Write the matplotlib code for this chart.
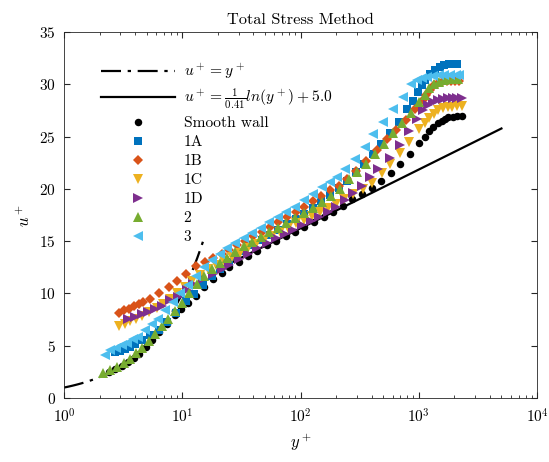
import numpy as np
import matplotlib
matplotlib.use("Agg")
import matplotlib.pyplot as plt

plt.rcParams['font.family'] = 'serif'
plt.rcParams['font.serif'] = ['cmr10', 'DejaVu Serif']
plt.rcParams['mathtext.fontset'] = 'cm'
plt.rcParams['axes.formatter.use_mathtext'] = True
plt.rcParams['font.size'] = 10

# smooth wall
yp_smooth = [2.4, 2.7, 3.1, 3.5, 3.9, 4.3, 4.9, 5.5, 6.4, 7.4, 8.6, 9.8, 11.2, 13.0, 15.4, 18.2, 21.5, 25, 30, 36,
             43, 52, 62, 75, 90, 108, 130, 157, 189, 230, 270, 328, 399, 476, 578, 692, 841, 1008, 1120, 1224,
             1324, 1459, 1560, 1662, 1780, 1954, 2120, 2300]
up_smooth = [2.5, 2.8, 3.1, 3.45, 3.85, 4.25, 4.85, 5.5, 6.3, 7.1, 7.9, 8.5, 9.1, 9.8, 10.6, 11.4, 12.0, 12.5, 13.0, 13.6,
             14.1, 14.6, 15.0, 15.5, 15.9, 16.4, 16.8, 17.3, 17.8, 18.4, 19.0, 19.5, 20.05, 20.8, 21.5, 22.4, 23.3, 24.4, 25.0, 25.5,
             25.9, 26.3, 26.5, 26.7, 26.85, 26.9, 26.95, 26.95]

# 1A
yp_1A = [2.7, 3.0, 3.3, 3.6, 4.0, 4.6, 5.3, 6.3, 7.4, 8.8, 10.7, 12.6, 15.0, 18.0, 21, 25, 29, 34, 40, 47,
         55, 65, 77, 91, 107, 127, 150, 177, 210, 248, 293, 346, 409, 483, 571, 675, 790, 900, 990, 1060,
         1120, 1240, 1370, 1500, 1650, 1790, 1950, 2110]
up_1A = [4.4, 4.5, 4.7, 4.9, 5.15, 5.5, 6.0, 6.5, 7.3, 8.1, 9.3, 9.9, 10.8, 11.7, 12.3, 13.0, 13.6, 14.1, 14.6, 15.1,
         15.6, 16.1, 16.6, 17.1, 17.6, 18.2, 18.8, 19.4, 20.1, 20.8, 21.6, 22.4, 23.3, 24.3, 25.3, 26.4, 27.6, 28.4, 29.3, 29.9,
         30.4, 31.0, 31.4, 31.7, 31.8, 31.9, 31.9, 31.9]

# 1B
yp_1B = [2.93, 3.23, 3.56, 3.93, 4.33, 4.68, 5.33, 6.39, 7.67, 9.08, 10.7, 13.1, 15.6, 18.3, 21.5, 25, 29, 34, 40, 47,
         55, 65, 77, 91, 107, 127, 150, 177, 210, 248, 293, 359, 447, 535, 641, 781, 924, 1085, 1160, 1250,
         1350, 1460, 1580, 1720, 1870, 2030, 2200]
up_1B = [8.1, 8.4, 8.55, 8.8, 9.0, 9.2, 9.5, 10.0, 10.6, 11.2, 11.9, 12.6, 13.0, 13.4, 13.8, 14.2, 14.6, 15.0, 15.45, 15.9,
         16.35, 16.8, 17.3, 17.8, 18.3, 18.8, 19.3, 19.85, 20.3, 20.9, 21.7, 22.7, 23.7, 24.8, 25.6, 26.6, 27.6, 28.5, 29.0, 29.5,
         29.9, 30.1, 30.25, 30.3, 30.3, 30.3, 30.3]

# 1C
yp_1C = [2.93, 3.28, 3.61, 4.06, 4.53, 5.2, 6.08, 6.9, 7.9, 9.1, 10.5, 12.2, 14.2, 16.6, 19.4, 22.7, 26.5, 31, 36, 42,
         49, 57, 67, 78, 91, 107, 125, 146, 171, 200, 234, 280, 339, 399, 486, 569, 692, 827, 1008, 1120,
         1224, 1340, 1460, 1600, 1750, 1920, 2100, 2300]
up_1C = [6.9, 7.1, 7.4, 7.6, 7.8, 8.2, 8.6, 9.0, 9.5, 10.0, 10.6, 11.2, 11.8, 12.3, 12.7, 13.1, 13.5, 13.9, 14.3, 14.7,
         15.1, 15.5, 15.9, 16.3, 16.7, 17.0, 17.4, 17.8, 18.2, 18.6, 19.0, 19.5, 20.0, 20.6, 21.5, 22.4, 23.4, 24.5, 25.7, 26.3,
         26.8, 27.2, 27.5, 27.7, 27.8, 27.85, 27.9, 27.9]

# 1D
yp_1D = [3.5, 3.98, 4.53, 5.16, 5.87, 6.68, 7.86, 9.24, 10.9, 12.4, 15.0, 18.3, 21.5, 25, 30, 36, 43, 52, 62, 74,
         87, 103, 122, 144, 170, 200, 236, 278, 328, 386, 455, 569, 692, 827, 960, 1080, 1200, 1320, 1450, 1600,
         1760, 1930, 2100, 2300]
up_1D = [7.6, 7.75, 8.0, 8.25, 8.55, 8.8, 9.35, 9.7, 10.3, 10.9, 11.4, 11.9, 12.3, 12.7, 13.3, 13.8, 14.3, 14.8, 15.3, 15.7,
         16.1, 16.5, 16.9, 17.35, 17.8, 18.3, 18.9, 19.6, 20.3, 21.1, 21.9, 23.0, 24.2, 25.5, 26.7, 27.5, 28.0, 28.3, 28.5, 28.6,
         28.7, 28.7, 28.7, 28.7]

# 2
yp_2 = [2.15, 2.45, 2.8, 3.2, 3.6, 4.1, 4.6, 5.2, 5.9, 6.7, 7.6, 8.7, 10.0, 11.5, 13.2, 15.3, 17.8, 20.7, 24, 28,
        33, 39, 46, 54, 64, 76, 90, 107, 127, 151, 180, 214, 255, 303, 360, 428, 509, 605, 720, 855,
        1000, 1120, 1230, 1350, 1480, 1620, 1780, 1950, 2140]
up_2 = [2.4, 2.7, 3.0, 3.35, 3.75, 4.3, 4.8, 5.45, 6.1, 6.9, 7.6, 8.3, 9.1, 10.0, 10.9, 11.7, 12.3, 12.9, 13.4, 14.0,
        14.5, 14.95, 15.4, 15.85, 16.3, 16.75, 17.2, 17.65, 18.15, 18.7, 19.3, 20.0, 20.9, 21.6, 22.4, 23.3, 24.3, 25.3, 26.3, 27.3,
        28.3, 29.0, 29.6, 30.0, 30.25, 30.4, 30.5, 30.5, 30.5]

# 3
yp_3 = [2.22, 2.45, 2.75, 3.07, 3.43, 3.85, 4.25, 4.84, 5.51, 6.27, 7.14, 8.41, 9.6, 11.2, 13.0, 15.2, 17.7, 20.7, 24, 28,
        33, 39, 46, 54, 64, 76, 90, 107, 127, 151, 176, 205, 240, 289, 350, 410, 503, 600, 737, 864,
        960, 1060, 1180, 1320, 1480, 1650, 1850, 2050, 2200]
up_3 = [4.1, 4.55, 4.8, 5.05, 5.3, 5.6, 5.8, 6.5, 7.1, 7.6, 8.4, 9.2, 10.0, 10.8, 11.7, 12.5, 13.2, 13.8, 14.3, 14.8,
        15.3, 15.8, 16.3, 16.8, 17.3, 17.8, 18.3, 18.9, 19.5, 20.2, 20.7, 21.1, 21.9, 22.9, 24.0, 25.2, 26.4, 27.6, 28.8, 30.0,
        30.4, 30.6, 30.7, 30.8, 30.9, 30.9, 30.9, 30.9, 30.9]

# reference lines
yp_visc = np.logspace(0, np.log10(15), 50)
yp_log = np.logspace(np.log10(20), np.log10(5000), 50)

fig = plt.figure(figsize=(5.49, 4.62), dpi=100)
ax = fig.add_axes([0.1166, 0.1385, 0.8616, 0.7922])

ax.plot(yp_visc, yp_visc, color='k', linestyle=(0, (9, 3, 1.5, 3)), lw=1.6, label=r'$u^+ = y^+$')
ax.plot(yp_log, np.log(yp_log) / 0.41 + 5.0, color='k', lw=1.6,
        label=r'$u^+ = \frac{1}{0.41}ln(y^+) + 5.0$')

series = [
    (yp_smooth, up_smooth, 'o', 'k', 5.4, 'Smooth wall'),
    (yp_1A, up_1A, 's', '#0072BD', 5.4, '1A'),
    (yp_1B, up_1B, 'D', '#D95319', 4.8, '1B'),
    (yp_1C, up_1C, 'v', '#EDB120', 6.5, '1C'),
    (yp_1D, up_1D, '>', '#7E2F8E', 6.5, '1D'),
    (yp_2, up_2, '^', '#77AC30', 6.5, '2'),
    (yp_3, up_3, '<', '#4DBEEE', 6.5, '3'),
]
for xs, ys, m, c, ms, lab in series:
    ax.plot(xs, ys, linestyle='none', marker=m, color=c, markersize=ms,
            markeredgewidth=0, label=lab)

ax.set_xscale('log')
ax.set_xlim(1, 1e4)
ax.set_ylim(0, 35)
ax.set_yticks(np.arange(0, 36, 5))
ax.tick_params(which='both', direction='in', top=True, right=True, colors='#262626', labelcolor='k')
ax.tick_params(which='major', length=4, labelsize=11)
ax.tick_params(which='minor', length=2.5)
ax.tick_params(axis='x', which='major', pad=7)
ax.tick_params(axis='y', which='major', pad=6)
for s in ax.spines.values():
    s.set_color('#262626')
    s.set_linewidth(0.6)

ax.set_title('Total Stress Method', fontsize=11.8)
ax.set_xlabel(r'$y^+$', fontsize=12)
ax.set_ylabel(r'$u^+$', fontsize=12)

ax.legend(loc='upper left', bbox_to_anchor=(0.064, 0.935), frameon=False, fontsize=11.2,
          handlelength=4.8, handletextpad=0.55, labelspacing=0.33, borderaxespad=0)

fig.savefig('out.png', dpi=100)
